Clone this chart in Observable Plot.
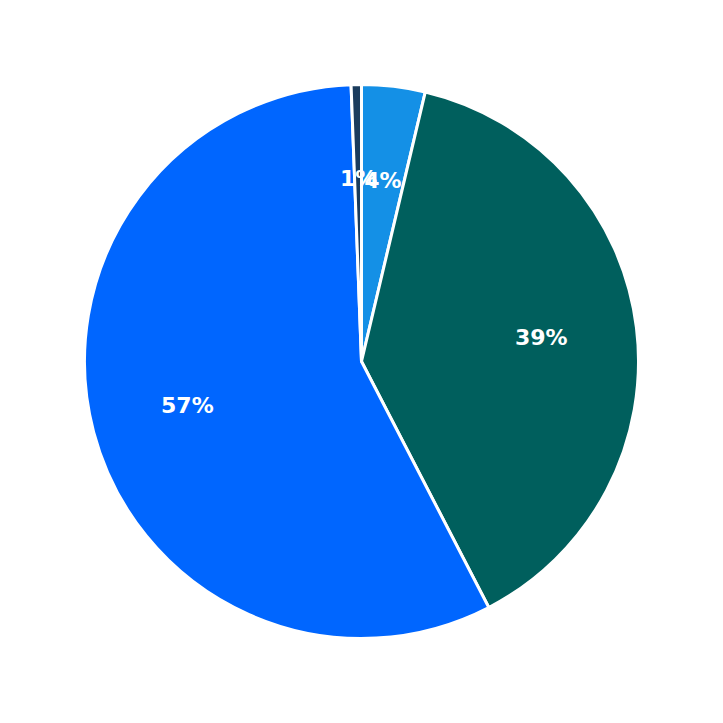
<!DOCTYPE html>
<html><head><meta charset="utf-8">
<script src="https://cdn.jsdelivr.net/npm/d3@7"></script>
<script src="https://cdn.jsdelivr.net/npm/@observablehq/plot@0.6"></script>
<style>body{margin:0;background:#fff;} #chart{width:723px;height:723px;}</style>
</head><body><div id="chart"></div>
<script>
const categories = ["A", "B", "C", "D"];
const values = [3.7, 38.7, 57.0, 0.6];
const labels = ["4%", "39%", "57%", "1%"];
const colors = ["#1490E6", "#005F5D", "#0066FF", "#1A3B5D"];

const data = categories.map((c, i) => ({category: c, value: values[i], label: labels[i]}));
const pie = d3.pie().sort(null).value(d => d.value)(data);
const labelR = 0.652;
const labelData = pie.map(p => {
  const a = (p.startAngle + p.endAngle) / 2;
  return {label: p.data.label, x: labelR * Math.sin(a), y: labelR * Math.cos(a)};
});

const pieMark = (index, scales, values, dimensions, context) => {
  const cx = scales.x(0), cy = scales.y(0);
  const r = scales.x(1) - scales.x(0);
  const arc = d3.arc().innerRadius(0).outerRadius(r);
  const g = d3.create("svg:g").attr("transform", `translate(${cx},${cy})`);
  g.selectAll("path").data(pie).join("path")
    .attr("d", arc)
    .attr("fill", d => scales.color(d.data.category))
    .attr("stroke", "white")
    .attr("stroke-width", 3)
    .attr("stroke-linejoin", "round");
  return g.node();
};

const chart = Plot.plot({
  width: 723, height: 723,
  margin: 0,
  x: {domain: [-1.305, 1.305], axis: null},
  y: {domain: [-1.305, 1.305], axis: null},
  color: {domain: categories, range: colors},
  style: {fontFamily: "DejaVu Sans, sans-serif", background: "white"},
  marks: [
    pieMark,
    Plot.text(labelData, {x: "x", y: "y", text: "label", fill: "white", fontSize: 22, fontWeight: "bold", dy: -2})
  ]
});
document.getElementById("chart").appendChild(chart);
</script></body></html>
